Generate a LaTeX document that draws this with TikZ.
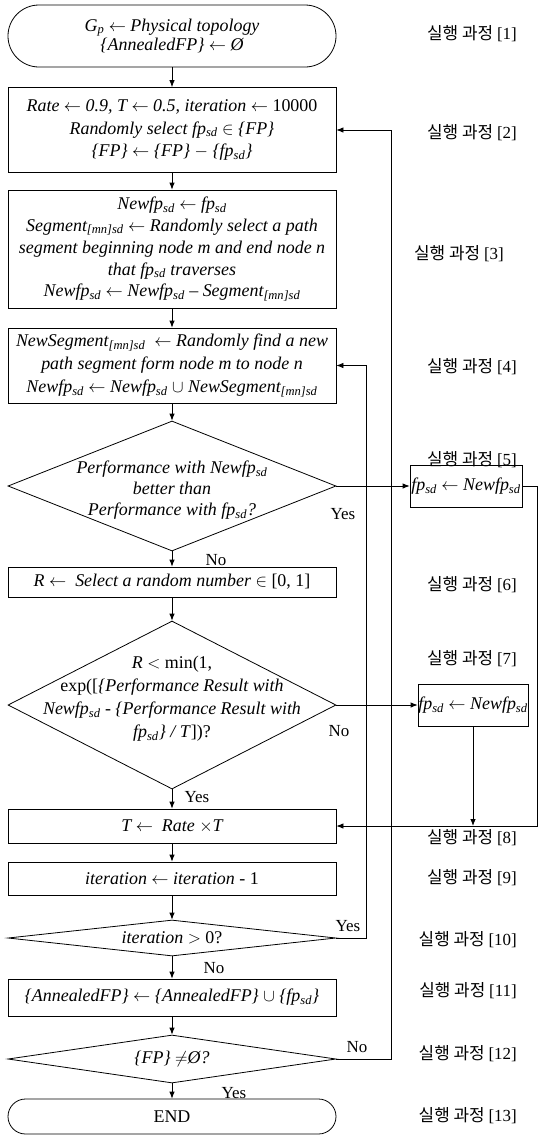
\documentclass[tikz,border=0pt]{standalone}
\usepackage{fontspec}
\setmainfont{Liberation Serif}
\newfontfamily\kor{Noto Sans CJK KR}
\usetikzlibrary{shapes.geometric,shapes.misc,arrows.meta}
\newcommand{\sd}{\textsubscript{sd}}
\newcommand{\mnsd}{\textsubscript{[\textit{mn}]sd}}
\newcommand{\kl}[1]{실행 과정 {\rmfamily\upshape [#1]}}
\tikzset{
  every node/.style={font=\fontsize{18}{23}\selectfont\itshape},
  proc/.style={draw, line width=0.8bp, minimum width=328bp, inner sep=0pt, align=center},
  dec/.style={draw, diamond, line width=0.8bp, minimum width=328bp, inner sep=0pt},
  term/.style={draw, rounded rectangle, line width=0.8bp, minimum width=328bp, inner sep=0pt, align=center},
  arr/.style={-{Latex[length=7bp,width=5.5bp]}, line width=0.8bp},
  lab/.style={font=\fontsize{17}{20}\selectfont\upshape, inner sep=0pt},
  klab/.style={font=\kor\fontsize{17}{19}\selectfont, anchor=east, inner sep=0pt},
}
\begin{document}
\begin{tikzpicture}[x=1bp,y=-1bp]
\useasboundingbox (0,0) rectangle (538,1137);
% left column
\node[term, minimum height=62bp] (start) at (172,36) {\textit{G}\textsubscript{p} $\leftarrow$ Physical topology\\[-3bp] \{AnnealedFP\} $\leftarrow$ Ø};
\node[proc, minimum height=85bp] (b2) at (172,130) {Rate $\leftarrow$ 0.9, T $\leftarrow$ 0.5, iteration $\leftarrow$ \textup{10000}\\ Randomly select fp\sd{} $\in$ \{FP\}\\ \{FP\} $\leftarrow$ \{FP\} $-$ \{fp\sd\}};
\node[proc, minimum height=118bp] (b3) at (172,249) {Newfp\sd{} $\leftarrow$ fp\sd\\[-1bp] Segment\mnsd{} $\leftarrow$ Randomly select a path\\[-1bp] segment beginning node m and end node n\\[-1bp] that fp\sd{} traverses\\[-1bp] Newfp\sd{} $\leftarrow$ Newfp\sd{} -- Segment\mnsd};
\node[proc, minimum height=75bp] (b4) at (172,365.5) {NewSegment\mnsd{} \ $\leftarrow$ Randomly find a new\\ path segment form node m to node n\\ Newfp\sd{} $\leftarrow$ Newfp\sd{} $\cup$ NewSegment\mnsd};
\node[dec, minimum height=130bp] (d1) at (172,486) {};
\node (d1t) at (172,490) [align=center] {Performance with Newfp\sd\\[-2bp] better than\\[-2bp] Performance with fp\sd?};
\node[proc, minimum height=30bp] (b6) at (172,582) {R $\leftarrow$\ \ Select a random number $\in$ \textup{[0, 1]}};
\node[dec, minimum height=168bp] (d2) at (172,705) {};
\node (d2t) at (172,699) [align=center] {R \textup{$<$ min(1,}\\ \textup{exp([}\{Performance Result with\\ Newfp\sd{} - \{Performance Result with\\ fp\sd\} / T\textup{])?}};
\node[proc, minimum height=34bp] (tb) at (172,826) {T $\leftarrow$\ \ Rate $\times$T};
\node[proc, minimum height=33bp] (b9) at (172,878.5) {iteration $\leftarrow$ iteration \textup{- 1}};
\node[dec, minimum height=36bp] (d3) at (172,938) {};
\node (d3t) at (172,938) {iteration \textup{$>$ 0?}};
\node[proc, minimum height=37bp] (b11) at (172,997.5) {\{AnnealedFP\} $\leftarrow$ \{AnnealedFP\} $\cup$ \{fp\sd\}};
\node[dec, minimum height=48bp] (d4) at (172,1059) {};
\node (d4t) at (172,1059) {\{FP\} $\neq$Ø?};
\node[term, minimum height=35bp] (end) at (172,1116.5) {\textup{END}};
% right boxes
\node[proc, minimum width=112bp, minimum height=42bp] (b5) at (466,486) {fp\sd{} $\leftarrow$ Newfp\sd};
\node[proc, minimum width=110bp, minimum height=42bp] (b7) at (473,705) {fp\sd{} $\leftarrow$ Newfp\sd};
% coordinates for loops
\coordinate (ci) at (366,0);
\coordinate (co) at (391,0);
\coordinate (cr) at (537,0);
% main flow
\draw[arr] (start.south) -- (b2.north);
\draw[arr] (b2.south) -- (b3.north);
\draw[arr] (b3.south) -- (b4.north);
\draw[arr] (b4.south) -- (d1.north);
\draw[arr] (d1.south) -- (b6.north);
\draw[arr] (b6.south) -- (d2.north);
\draw[arr] (d2.south) -- (tb.north);
\draw[arr] (tb.south) -- (b9.north);
\draw[arr] (b9.south) -- (d3.north);
\draw[arr] (d3.south) -- (b11.north);
\draw[arr] (b11.south) -- (d4.north);
\draw[arr] (d4.south) -- (end.north);
% branches
\draw[arr] (d1.east) -- (d1.east -| b5.west);
\draw[arr] (d2.east) -- (d2.east -| b7.west);
\draw[arr] (b5.east) -- (b5.east -| cr) -- (cr |- tb.east) -- (tb.east);
\draw[arr] (b7.south) -- (b7.south |- tb.east);
\draw[arr] (d3.east) -- (d3.east -| ci) -- (ci |- b4.east) -- (b4.east);
\draw[arr] (d4.east) -- (d4.east -| co) -- (co |- b2.east) -- (b2.east);
% yes/no labels
\node[lab] (y1) at (343,514) {Yes};
\node[lab] (n1) at (216,560) {No};
\node[lab] (n2) at (339,731) {No};
\node[lab] (y2) at (197,797) {Yes};
\node[lab] (y3) at (348,926) {Yes};
\node[lab] (n3) at (214,968) {No};
\node[lab] (n4) at (357,1047) {No};
\node[lab] (y4) at (234,1093) {Yes};
% step labels
\node[klab] (k1) at (517,34) {\kl{1}};
\node[klab] (k2) at (517,133) {\kl{2}};
\node[klab] (k3) at (504,254) {\kl{3}};
\node[klab] (k4) at (517,367) {\kl{4}};
\node[klab] (k5) at (517,460) {\kl{5}};
\node[klab] (k6) at (517,585) {\kl{6}};
\node[klab] (k7) at (517,659) {\kl{7}};
\node[klab] (k8) at (517,838) {\kl{8}};
\node[klab] (k9) at (517,878) {\kl{9}};
\node[klab] (k10) at (517,940) {\kl{10}};
\node[klab] (k11) at (517,991) {\kl{11}};
\node[klab] (k12) at (517,1054) {\kl{12}};
\node[klab] (k13) at (517,1116) {\kl{13}};
\end{tikzpicture}
\end{document}
